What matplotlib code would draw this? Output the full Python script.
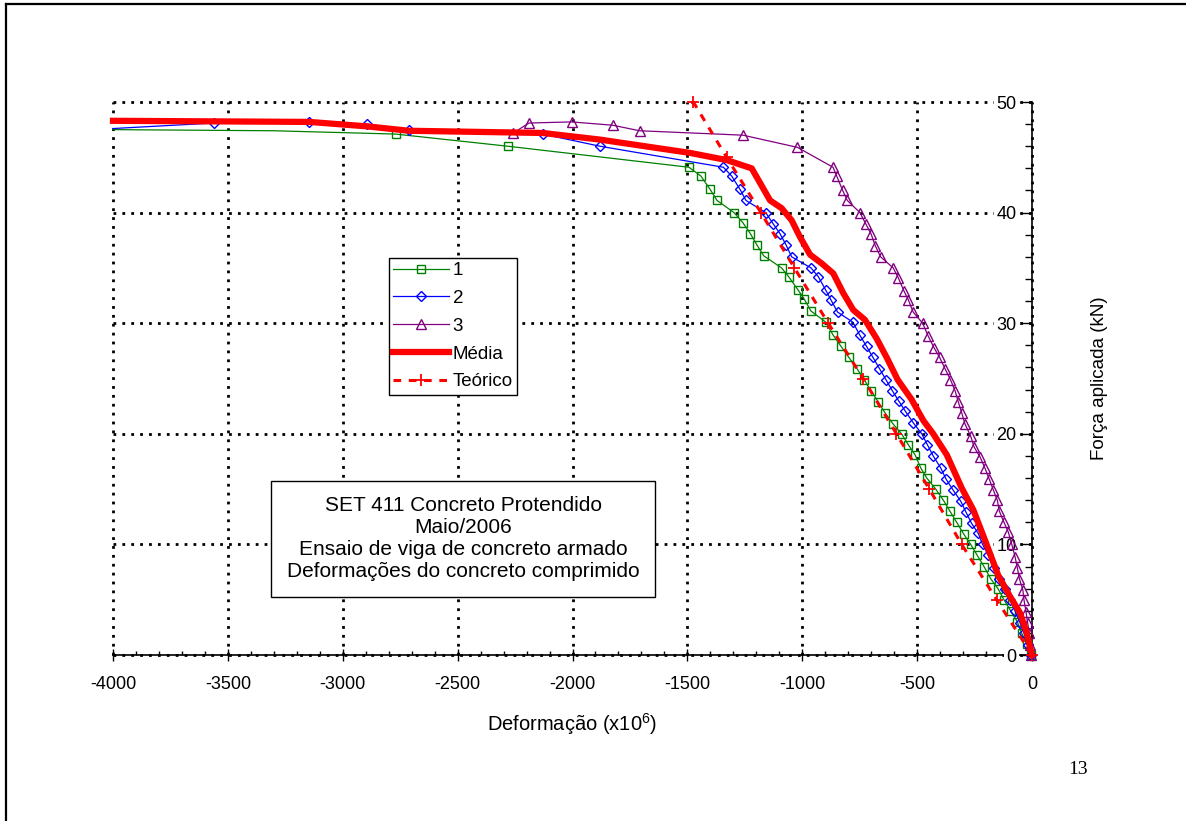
# -*- coding: utf-8 -*-
import matplotlib
matplotlib.use('Agg')
import matplotlib.pyplot as plt
from matplotlib.lines import Line2D

# dados (deformação x10^6, força kN)
x1 = [-4000, -3300, -2770, -2281, -1493, -1441, -1401, -1371, -1297, -1259, -1226, -1198, -1168,
      -1090, -1059, -1018, -992, -962, -898, -865, -831, -797, -762, -731, -701, -670, -640, -605,
      -568, -538, -509, -484, -458, -419, -386, -357, -328, -296, -267, -238, -209, -180, -148,
      -122, -93, -64, -45, -23, -5]
y1 = [47.5, 47.4, 47.1, 46.0, 44.1, 43.3, 42.1, 41.1, 40.0, 39.1, 38.1, 37.1, 36.1, 35.0, 34.2,
      33.0, 32.2, 31.1, 30.1, 28.9, 27.9, 26.9, 25.9, 24.9, 23.9, 22.9, 21.9, 20.9, 20.0, 19.0,
      18.1, 16.9, 16.0, 15.0, 14.0, 13.0, 12.0, 10.9, 10.0, 9.0, 8.0, 6.9, 6.0, 5.0, 4.0, 3.0,
      2.0, 1.0, 0.0]

x2 = [-4000, -3559, -3146, -2896, -2710, -2130, -1880, -1343, -1307, -1271, -1245, -1159, -1127,
      -1097, -1071, -1046, -962, -930, -898, -875, -846, -780, -749, -720, -692, -664, -636, -608,
      -581, -553, -517, -480, -455, -430, -397, -374, -343, -310, -287, -263, -234, -215, -190,
      -165, -142, -118, -96, -74, -52, -35, -19, -4]
y2 = [47.6, 48.1, 48.2, 48.0, 47.5, 47.1, 46.0, 44.1, 43.3, 42.1, 41.1, 40.0, 39.0, 38.1, 37.1,
      36.0, 35.0, 34.2, 33.0, 32.1, 31.0, 30.1, 28.9, 27.9, 26.9, 25.9, 24.9, 23.9, 23.0, 22.1,
      21.0, 20.0, 19.0, 18.0, 16.9, 15.9, 14.9, 13.9, 12.9, 11.9, 11.0, 10.0, 9.0, 7.9, 6.9,
      6.0, 5.0, 4.0, 2.9, 2.0, 0.9, 0.0]

x3 = [-2258, -2189, -2004, -1825, -1708, -1258, -1021, -866, -850, -824, -804, -749, -724, -701,
      -682, -659, -604, -582, -557, -538, -517, -476, -451, -427, -402, -379, -355, -335, -321,
      -306, -292, -267, -252, -226, -205, -186, -168, -151, -142, -122, -103, -88, -74, -64, -55,
      -40, -35, -26, -19, -12, -9, -4]
y3 = [47.2, 48.1, 48.2, 47.9, 47.4, 47.0, 45.9, 44.1, 43.3, 42.0, 41.1, 40.0, 39.0, 38.1, 37.0,
      36.0, 35.0, 34.1, 32.9, 32.1, 31.0, 30.0, 28.8, 27.8, 26.9, 25.9, 24.9, 23.9, 22.9, 21.9,
      20.9, 19.8, 18.8, 17.9, 16.9, 15.9, 14.9, 14.0, 13.0, 12.0, 11.1, 10.0, 8.9, 7.9, 6.9,
      5.9, 5.0, 3.9, 2.9, 2.0, 0.9, 0.0]

x_media = [-4000, -3146, -2896, -2712, -2130, -1880, -1489, -1329, -1220, -1140, -1090, -1046,
           -1010, -966, -915, -865, -821, -778, -727, -676, -630, -585, -524, -473, -430, -371,
           -306, -255, -205, -147, -96, -52, -23, 0]
y_media = [48.3, 48.2, 47.8, 47.4, 47.2, 46.6, 45.4, 44.75, 44.0, 41.1, 40.4, 39.3, 37.8, 36.2,
           35.4, 34.5, 32.7, 31.2, 30.3, 28.6, 26.8, 24.9, 23.1, 21.2, 20.0, 18.1, 15.1, 13.1,
           10.4, 7.2, 5.3, 3.8, 2.0, 0.0]

x_teo = [0, -154, -306, -447, -590, -735, -887, -1034, -1180, -1329, -1474]
y_teo = [0, 5, 10, 15, 20, 25, 30, 35, 40, 45, 50]

texto = ('SET 411 Concreto Protendido\nMaio/2006\n'
         'Ensaio de viga de concreto armado\nDeformações do concreto comprimido')

plt.rcParams['font.family'] = ['Liberation Sans', 'DejaVu Sans']
plt.rcParams['mathtext.default'] = 'regular'
plt.rcParams['axes.unicode_minus'] = False

fig = plt.figure(figsize=(11.86, 8.21), dpi=100)
ax = fig.add_axes([113 / 1186, 1 - 655 / 821, 919 / 1186, 553 / 821])

verde, azul, roxo, verm = '#008000', '#0000ff', '#800080', '#ff0000'

ax.plot(x1, y1, color=verde, lw=0.9, marker='s', ms=5.8, mfc='none', mec=verde, mew=1,
        markevery=list(range(2, len(x1))), clip_on=False, zorder=3)
ax.plot(x2, y2, color=azul, lw=0.9, marker='D', ms=5, mfc='none', mec=azul, mew=1,
        markevery=list(range(1, len(x2))), clip_on=False, zorder=3)
ax.plot(x3, y3, color=roxo, lw=0.9, marker='^', ms=7, mfc='none', mec=roxo, mew=1,
        clip_on=False, zorder=3)
ax.plot(x_media, y_media, color=verm, lw=4.5, solid_joinstyle='round', clip_on=False, zorder=4)
ax.plot(x_teo, y_teo, color=verm, lw=2.2, dashes=(2.5, 2.5), marker='+', ms=9, mew=1.3,
        clip_on=False, zorder=4)

# grade pontilhada (também faz o papel das bordas esquerda e superior)
for xv in range(-4000, 1, 500):
    ax.axvline(xv, color='black', lw=2, ls=(0, (1, 2.2)), zorder=1, clip_on=False)
for yv in range(0, 51, 10):
    ax.axhline(yv, color='black', lw=2, ls=(0, (1, 2.2)), zorder=1, clip_on=False)

ax.set_xlim(-4000, 0)
ax.set_ylim(0, 50)
ax.set_xticks(range(-4000, 1, 500))
ax.set_xticks(range(-4000, 1, 100), minor=True)
ax.set_yticks(range(0, 51, 10))
ax.set_yticks(range(0, 51, 2), minor=True)
ax.set_axisbelow(False)

ax.spines['left'].set_visible(False)
ax.spines['top'].set_visible(False)
ax.spines['bottom'].set_linewidth(1.2)
ax.spines['right'].set_linewidth(1.2)

ax.yaxis.tick_right()
ax.tick_params(axis='x', which='major', direction='inout', length=8, width=1, labelsize=13, pad=11)
ax.tick_params(axis='x', which='minor', direction='in', length=3, width=1)
ax.tick_params(axis='y', which='major', direction='in', length=8, width=1, labelsize=13, pad=-11)
ax.tick_params(axis='y', which='minor', direction='in', length=5, width=1)
for lbl in ax.get_yticklabels():
    lbl.set_horizontalalignment('right')
    lbl.set_bbox(dict(facecolor='white', edgecolor='none', pad=2))

ax.set_xlabel('Deformação (x10$^6$)', fontsize=14.5)
ax.xaxis.set_label_coords(0.5, -0.101)
ax.yaxis.set_label_position('right')
ax.set_ylabel('Força aplicada (kN)', fontsize=13.5)
ax.yaxis.set_label_coords(1.064, 0.501)

handles = [
    Line2D([], [], color=verde, lw=0.9, marker='s', ms=5.8, mfc='none', mec=verde),
    Line2D([], [], color=azul, lw=0.9, marker='D', ms=5, mfc='none', mec=azul),
    Line2D([], [], color=roxo, lw=0.9, marker='^', ms=7, mfc='none', mec=roxo),
    Line2D([], [], color=verm, lw=4.5),
    Line2D([], [], color=verm, lw=2.2, dashes=(2.5, 2.5), marker='+', ms=9, mew=1.3),
]
leg = ax.legend(handles, ['1', '2', '3', 'Média', 'Teórico'], loc='upper left',
                bbox_to_anchor=(0.300, 0.718), borderaxespad=0, fontsize=13.5,
                fancybox=False, framealpha=1, edgecolor='black', numpoints=1,
                handlelength=3.0, handletextpad=0.2, labelspacing=0.57, borderpad=0.22)
leg.get_frame().set_linewidth(1)
leg.set_zorder(6)

ax.text(0.381, 0.210, texto, transform=ax.transAxes, ha='center', va='center',
        fontsize=15, linespacing=1.2, zorder=6,
        bbox=dict(boxstyle='square,pad=0.76', facecolor='white', edgecolor='black', lw=1))

# moldura da página e número
fig.add_artist(Line2D([6 / 1186, 6 / 1186], [0, 1 - 4 / 821], transform=fig.transFigure,
                      color='black', lw=1.6))
fig.add_artist(Line2D([6 / 1186, 1], [1 - 4 / 821, 1 - 4 / 821], transform=fig.transFigure,
                      color='black', lw=1.6))
fig.text(1078 / 1186, 1 - 769 / 821, '13', family='Liberation Serif', fontsize=14,
         ha='center', va='center')

fig.savefig('out.png', dpi=100)
